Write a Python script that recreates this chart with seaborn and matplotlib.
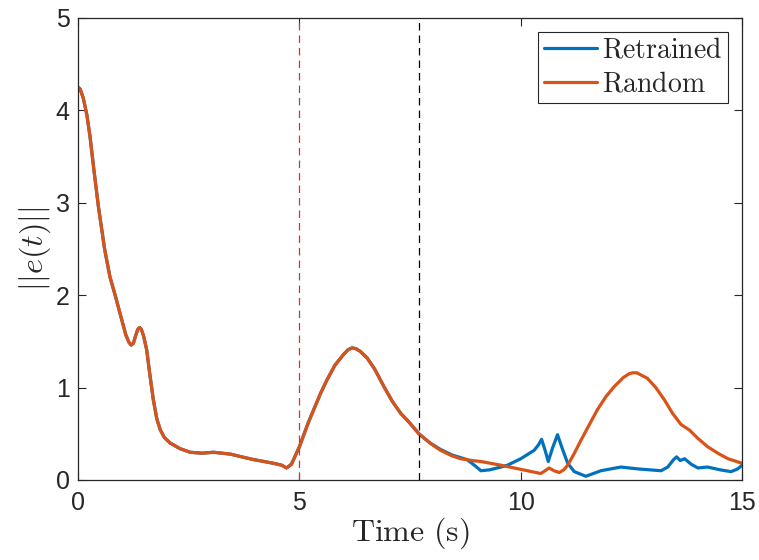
import matplotlib
matplotlib.use('Agg')
import matplotlib.pyplot as plt
import numpy as np
import pandas as pd
import seaborn as sns

# ------------------------------------------------------------
# 데이터
# ------------------------------------------------------------
# 두 곡선이 겹치는 구간 (0 ~ 7.7 s)
t_shared = [0, 0.05, 0.12, 0.2, 0.27, 0.36, 0.46, 0.6, 0.72, 0.85, 0.95, 1.08,
            1.15, 1.2, 1.25, 1.3, 1.35, 1.39, 1.43, 1.48, 1.55, 1.62, 1.7, 1.78,
            1.86, 1.95, 2.08, 2.3, 2.53, 2.8, 3.06, 3.44, 3.7, 3.97, 4.2, 4.42,
            4.6, 4.71, 4.82, 5.0, 5.2, 5.48, 5.62, 5.8, 6.0, 6.1, 6.19, 6.28,
            6.38, 6.53, 6.7, 6.91, 7.1, 7.29, 7.45, 7.7]
e_shared = [4.25, 4.23, 4.13, 3.95, 3.72, 3.35, 2.96, 2.5, 2.2, 1.98, 1.8, 1.57,
            1.49, 1.46, 1.48, 1.56, 1.63, 1.65, 1.63, 1.56, 1.41, 1.15, 0.87, 0.66,
            0.54, 0.46, 0.4, 0.34, 0.3, 0.29, 0.3, 0.28, 0.25, 0.22, 0.2, 0.18,
            0.16, 0.13, 0.17, 0.36, 0.62, 0.94, 1.08, 1.24, 1.36, 1.41, 1.43, 1.42,
            1.39, 1.32, 1.2, 1.01, 0.85, 0.72, 0.64, 0.5]

# Retrained 이후 구간
t_retrained = [7.95, 8.19, 8.45, 8.79, 8.95, 9.1, 9.3, 9.55, 9.7, 10.0, 10.3,
               10.4, 10.47, 10.55, 10.62, 10.72, 10.83, 10.93, 11.06, 11.21,
               11.47, 11.81, 12.26, 12.64, 13.17, 13.32, 13.45, 13.52, 13.6,
               13.7, 13.85, 14.0, 14.22, 14.5, 14.75, 14.9, 15.0]
e_retrained = [0.4, 0.33, 0.27, 0.22, 0.16, 0.1, 0.11, 0.14, 0.16, 0.23, 0.32,
               0.38, 0.44, 0.32, 0.2, 0.35, 0.49, 0.35, 0.18, 0.09,
               0.04, 0.1, 0.14, 0.12, 0.1, 0.14, 0.22, 0.25, 0.21,
               0.23, 0.17, 0.13, 0.14, 0.11, 0.09, 0.12, 0.16]

# Random 이후 구간
t_random = [7.95, 8.19, 8.45, 8.64, 8.9, 9.1, 9.55, 9.85, 10.15, 10.45, 10.55,
            10.64, 10.75, 10.87, 10.97, 11.06, 11.2, 11.36, 11.55, 11.73, 11.92,
            12.11, 12.32, 12.45, 12.53, 12.62, 12.7, 12.86, 13.05, 13.24, 13.43,
            13.62, 13.81, 14.0, 14.22, 14.45, 14.68, 15.0]
e_random = [0.4, 0.32, 0.26, 0.23, 0.21, 0.2, 0.16, 0.13, 0.1, 0.07, 0.1,
            0.13, 0.1, 0.08, 0.11, 0.16, 0.28, 0.43, 0.6, 0.76, 0.9,
            1.01, 1.11, 1.15, 1.16, 1.16, 1.14, 1.1, 1.0, 0.87, 0.72,
            0.6, 0.54, 0.45, 0.36, 0.29, 0.23, 0.18]

t_switch1 = 5.0   # 빨간 점선
t_switch2 = 7.7   # 검은 점선

# ------------------------------------------------------------
# 스타일
# ------------------------------------------------------------
sns.set_style('ticks')
plt.rcParams['font.family'] = ['Liberation Sans', 'DejaVu Sans']
plt.rcParams['mathtext.fontset'] = 'cm'

df_ret = pd.DataFrame({'t': t_shared + t_retrained, 'e': e_shared + e_retrained})
df_rand = pd.DataFrame({'t': t_shared + t_random, 'e': e_shared + e_random})

fig = plt.figure(figsize=(7.59, 5.6), dpi=100)
ax = fig.add_axes([0.1028, 0.1429, 0.875, 0.825])

sns.lineplot(data=df_ret, x='t', y='e', ax=ax, color='#0072BD', lw=2.3,
             sort=False, label=r'$\mathrm{Retrained}$')
sns.lineplot(data=df_rand, x='t', y='e', ax=ax, color='#D95319', lw=2.3,
             sort=False, label=r'$\mathrm{Random}$')

ax.axvline(t_switch1, color='#d9303a', lw=0.9, ls=(0, (6, 4)))
ax.axvline(t_switch2, color='black', lw=0.9, ls=(0, (6, 4)))

ax.set_xlim(0, 15)
ax.set_ylim(0, 5)
ax.set_xticks([0, 5, 10, 15])
ax.set_yticks([0, 1, 2, 3, 4, 5])
ax.tick_params(direction='in', length=6, width=0.8, top=True, right=True,
               labelsize=18, colors='#262626', labelcolor='#262626')
ax.tick_params(axis='x', pad=8)
ax.tick_params(axis='y', pad=6)
for s in ax.spines.values():
    s.set_visible(True)
    s.set_color('#262626')
    s.set_linewidth(0.9)

ax.set_xlabel(r'$\mathrm{Time\ (s)}$', fontsize=23, labelpad=0)
ax.set_ylabel(r'$||e(t)||$', fontsize=23, labelpad=2)

leg = ax.legend(loc='upper right', fontsize=20, frameon=True, fancybox=False,
                edgecolor='#262626', framealpha=1, handlelength=1.9,
                handletextpad=0.2, borderpad=0.2, labelspacing=0.3,
                borderaxespad=0.5)
leg.get_frame().set_linewidth(0.8)

fig.savefig('out.png', dpi=100)
